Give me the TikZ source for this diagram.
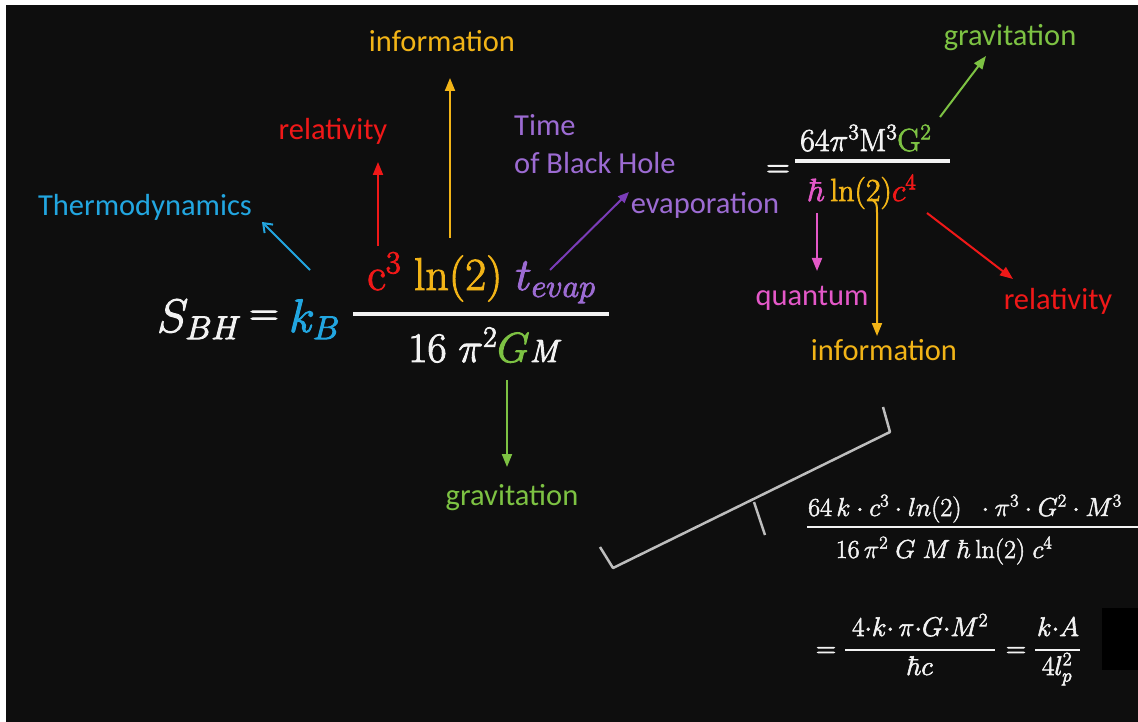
\documentclass[tikz,border=0pt]{standalone}
\usepackage{fix-cm}
\usepackage{amsmath}
\usepackage[no-math]{fontspec}
\newfontfamily\lab{Carlito}
\usetikzlibrary{arrows.meta}
\newcommand\thk[2]{\special{pdf:literal direct 2 Tr #1 w}#2\special{pdf:literal direct 0 Tr}}
\definecolor{bg}{HTML}{0E0E0E}
\definecolor{cya}{HTML}{22A6E0}
\definecolor{rd}{HTML}{F01818}
\definecolor{yel}{HTML}{F2B417}
\definecolor{pur}{HTML}{9C6BD2}
\definecolor{darkpur}{HTML}{7A3CB8}
\definecolor{grn}{HTML}{7DC243}
\definecolor{pnk}{HTML}{E458C8}
\definecolor{wht}{HTML}{F2F2F2}
\definecolor{gry}{HTML}{BDBDBD}
\begin{document}
\begin{tikzpicture}[x=1pt,y=-1pt,
  lbl/.style={font=\lab\fontsize{30.5}{38}\selectfont, inner sep=0pt},
  conn/.style={line width=2pt, -{Triangle[length=13pt,width=10pt]}},
  fbar/.style={line width=4.5pt, wht},
  big/.style={font=\fontsize{47}{54}\selectfont, inner sep=0pt, text=wht},
  mid/.style={font=\fontsize{46}{52}\selectfont, inner sep=0pt, text=wht},
  rgt/.style={font=\fontsize{32}{38}\selectfont, inner sep=0pt, text=wht},
  sml/.style={font=\fontsize{26}{30}\selectfont, inner sep=0pt, text=wht},
  bot/.style={font=\fontsize{27}{32}\selectfont, inner sep=0pt, text=wht}]
\useasboundingbox (0,0) rectangle (1138,722);
\fill[white] (0,0) rectangle (1138,722);
\fill[bg] (6,5) rectangle (1138,722);
\fill[black] (1102,608) rectangle (1138,670);

% labels
\node[lbl, text=cya] (thermo) at (145,207) {Thermodynamics};
\node[lbl, text=rd] (rel1) at (333,131) {relativity};
\node[lbl, text=yel] (info1) at (442,41) {information};
\node[lbl, text=pur, align=left, anchor=west] (time) at (514,144) {Time\\of Black Hole};
\node[lbl, text=pur] (evap) at (705,205) {evaporation};
\node[lbl, text=grn] (grav1) at (512,498) {gravitation};
\node[lbl, text=grn] (grav2) at (1010,38) {gravitation};
\node[lbl, text=pnk] (quant) at (812,298) {quantum};
\node[lbl, text=yel] (info2) at (884,350) {information};
\node[lbl, text=rd] (rel2) at (1058,301) {relativity};

% main formula
\node[big, anchor=base west] (sbh) at (157,332) {\thk{1}{$S_{BH}$}};
\node[mid, font=\fontsize{40}{46}\selectfont] (eq1) at (264,318) {\thk{1.2}{$=$}};
\node[big, anchor=base west, text=cya] (kb) at (289,332) {\thk{1}{$k_B$}};
\node[mid, anchor=base west] (num1) at (367,290) {\thk{0.9}{$\textcolor{rd}{\mathrm{c}^3}\;\textcolor{yel}{\ln(2)}\;\textcolor{pur}{t_{evap}}$}};
\coordinate (b1l) at (353,314);
\coordinate (b1r) at (609,314);
\draw[fbar] (b1l) -- (b1r);
\node[mid, font=\fontsize{42}{48}\selectfont, anchor=base west] (den1) at (408,362) {\thk{0.9}{$16\;\pi^2\textcolor{grn}{G}$\textit{\fontsize{32}{36}\selectfont M}}};

% right formula
\node[rgt] (eq2) at (778,171) {\thk{0.9}{$=$}};
\node[rgt, anchor=base west] (num2) at (800,151) {\thk{0.7}{$64\pi^3\mathrm{M}^3\textcolor{grn}{\mathrm{G}^2}$}};
\coordinate (b2l) at (795,161);
\coordinate (b2r) at (950,161);
\draw[line width=4pt, wht] (b2l) -- (b2r);
\node[rgt, anchor=base west] (den2) at (808,201) {\thk{0.7}{$\textcolor{pnk}{\hbar}\,\textcolor{yel}{\ln(2)}\textcolor{rd}{c^4}$}};

% arrows
\coordinate (a1s) at (310,270); \coordinate (a1e) at (262,222);
\draw[cya, line width=2pt, -{Straight Barb[length=8pt,width=12pt]}] (a1s) -- (a1e);
\coordinate (a2s) at (378,246); \coordinate (a2e) at (378,162);
\draw[conn, rd] (a2s) -- (a2e);
\coordinate (a3s) at (450,238); \coordinate (a3e) at (450,78);
\draw[conn, yel] (a3s) -- (a3e);
\coordinate (a4s) at (550,270); \coordinate (a4e) at (629,192);
\draw[conn, darkpur, -{Triangle[length=11pt,width=9pt]}] (a4s) -- (a4e);
\coordinate (a5s) at (507,380); \coordinate (a5e) at (507,467);
\draw[conn, grn] (a5s) -- (a5e);
\coordinate (a6s) at (940,117); \coordinate (a6e) at (986,56);
\draw[conn, grn] (a6s) -- (a6e);
\coordinate (a7s) at (817,213); \coordinate (a7e) at (817,271);
\draw[conn, pnk] (a7s) -- (a7e);
\coordinate (a8s) at (871,199); \coordinate (a8e) at (877,336);
\draw[conn, yel] (a8s) .. controls (877,203) .. (877,216) -- (a8e);
\coordinate (a9s) at (927,213); \coordinate (a9e) at (1013,279);
\draw[conn, rd] (a9s) -- (a9e);

% bracket
\coordinate (k1) at (600,547); \coordinate (k2) at (613,568);
\coordinate (k3) at (890,432); \coordinate (k4) at (883,407);
\coordinate (k5) at (754,502); \coordinate (k6) at (765,535);
\draw[gry, line width=2.5pt, line join=round] (k1) -- (k2) -- (k3) -- (k4);
\draw[gry, line width=2.5pt] (k5) -- (k6);

% expanded fraction
\node[sml, anchor=base west] (num3) at (808,516) {\thk{0.5}{$64\,k\cdot c^3\cdot ln(2)\;\;\cdot \pi^3\cdot G^2\cdot M^3$}};
\coordinate (b3l) at (807,527); \coordinate (b3r) at (1140,527);
\draw[line width=2pt, wht] (b3l) -- (b3r);
\node[sml, anchor=base] (den3) at (944,558) {\thk{0.5}{$16\,\pi^2\;G\;M\;\hbar\ln(2)\;c^4$}};

% final
\node[bot] (eq3) at (826,652) {\thk{0.8}{$=$}};
\node[bot, anchor=base] (num4) at (920,636) {\thk{0.6}{$4{\cdot}k{\cdot}\,\pi{\cdot}G{\cdot}M^2$}};
\coordinate (b4l) at (845,650); \coordinate (b4r) at (995,650);
\draw[line width=2.5pt, wht] (b4l) -- (b4r);
\node[bot, anchor=base] (den4) at (920,675) {\thk{0.6}{$\hbar c$}};
\node[bot] (eq4) at (1016,652) {\thk{0.8}{$=$}};
\node[bot, anchor=base] (num5) at (1058,636) {\thk{0.6}{$k{\cdot}A$}};
\coordinate (b5l) at (1035,650); \coordinate (b5r) at (1080,650);
\draw[line width=2.5pt, wht] (b5l) -- (b5r);
\node[bot, anchor=base] (den5) at (1057,675) {\thk{0.6}{$4l_p^2$}};
\end{tikzpicture}
\end{document}
